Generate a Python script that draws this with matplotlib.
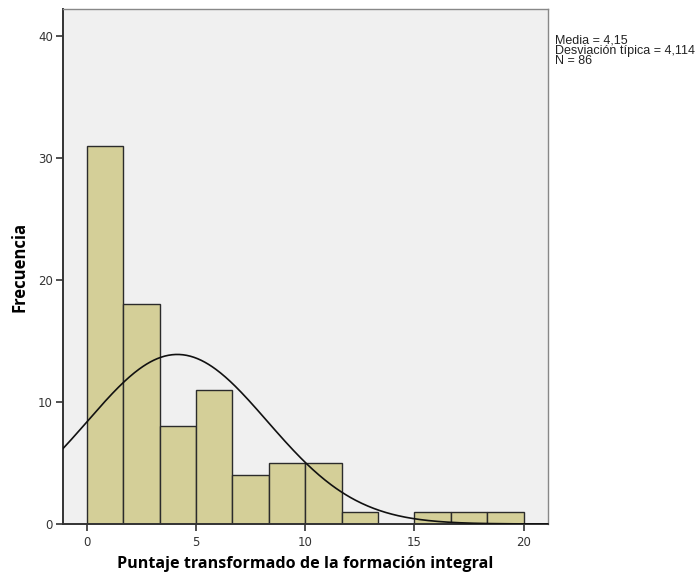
import numpy as np
import matplotlib.pyplot as plt

# histogram data
bin_edges = np.linspace(0, 20, 13)
counts = [31, 18, 8, 11, 4, 5, 5, 1, 0, 1, 1, 1]
media = 4.15
desv = 4.114
n = 86
xticks = [0, 5, 10, 15, 20]
yticks = [0, 10, 20, 30, 40]

fig = plt.figure(figsize=(6.99, 5.77), dpi=100)
ax = fig.add_axes([0.0897, 0.0919, 0.6936, 0.892])
ax.set_facecolor("#f0f0f0")

widths = np.diff(bin_edges)
ax.bar(bin_edges[:-1], counts, width=widths, align="edge",
       color="#d4cf98", edgecolor="#2b2b2b", linewidth=1.0, zorder=2)

# normal curve scaled to counts
bw = widths[0]
xs = np.linspace(-1.1, 21.1, 400)
ys = n * bw * np.exp(-0.5 * ((xs - media) / desv) ** 2) / (desv * np.sqrt(2 * np.pi))
ax.plot(xs, ys, color="#111111", linewidth=1.2, zorder=3)

ax.set_xlim(-1.1, 21.1)
ax.set_ylim(0, 42.2)
ax.set_xticks(xticks)
ax.set_yticks(yticks)
ax.tick_params(direction="out", length=5, width=1.2, color="#333333",
               labelsize=8.5, labelcolor="#333333", pad=2)
ax.tick_params(axis="x", pad=4)
for s in ax.spines.values():
    s.set_color("#888888")
    s.set_linewidth(1.0)
for s in ["left", "bottom"]:
    ax.spines[s].set_color("#333333")
    ax.spines[s].set_linewidth(1.4)

ax.set_xlabel("Puntaje transformado de la formación integral", fontsize=11.6,
              fontweight="bold", family="Open Sans", labelpad=5)
ax.set_ylabel("Frecuencia", fontsize=12, fontweight="bold", family="Open Sans",
              labelpad=7)

fig.text(0.794, 0.941, f"Media = 4,15\nDesviación típica = 4,114\nN = {n}",
         fontsize=9, family="Liberation Sans", va="top", ha="left",
         linespacing=0.85, color="#222222")

fig.savefig("out.png", dpi=100)
